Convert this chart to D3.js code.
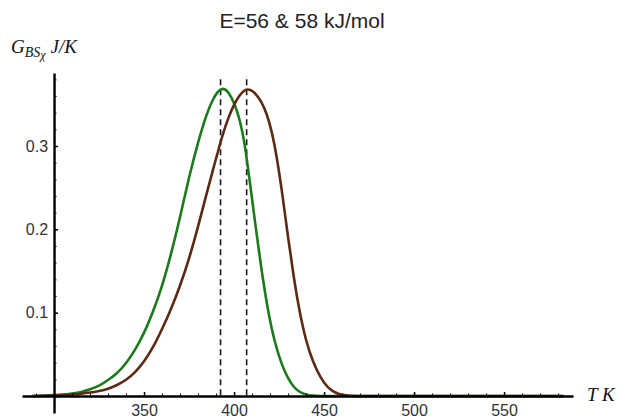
<!DOCTYPE html>
<html>
<head>
<meta charset="utf-8">
<script src="https://cdn.jsdelivr.net/npm/d3@7"></script>
<style>
  body { margin: 0; background: #fff; }
  svg { display: block; }
  .tick text { font-family: "Liberation Sans", Arial, sans-serif; font-size: 16px; fill: #333; }
</style>
</head>
<body>
<div class="chart"></div>
<script>
// temperature grid (K) shared by both curves
const tempK = [288, 295, 300, 305, 310, 315, 320, 325, 330, 335, 340, 345, 350, 355, 360, 365,
  370, 375, 380, 385, 388, 391, 394, 397, 400, 403, 406, 409, 412, 415, 418, 421, 424, 427,
  430, 433, 436, 440, 444, 448, 452, 456, 460, 465, 470, 500, 550, 583];

// E = 56 kJ/mol (green)
const g56 = [0, 0.0005, 0.001, 0.0015, 0.003, 0.0045, 0.008, 0.012, 0.019, 0.027, 0.039, 0.055,
  0.075, 0.101, 0.131, 0.17, 0.214, 0.263, 0.305, 0.34, 0.355, 0.366, 0.37, 0.365, 0.352,
  0.334, 0.303, 0.253, 0.203, 0.155, 0.113, 0.079, 0.054, 0.035, 0.021, 0.011, 0.005, 0.0015,
  0.0003, 0, 0, 0, 0, 0, 0, 0, 0, 0];

// E = 58 kJ/mol (brown)
const g58 = [0, 0.0003, 0.0006, 0.001, 0.0017, 0.0027, 0.004, 0.006, 0.0085, 0.013, 0.019, 0.028,
  0.041, 0.058, 0.08, 0.104, 0.132, 0.164, 0.203, 0.245, 0.269, 0.293, 0.316, 0.335, 0.35,
  0.361, 0.368, 0.368, 0.363, 0.354, 0.34, 0.318, 0.284, 0.24, 0.19, 0.145, 0.105, 0.065, 0.04,
  0.022, 0.01, 0.004, 0.001, 0.0002, 0, 0, 0, 0];

const peakT = [392.5, 407];
const xTicks = [350, 400, 450, 500, 550];
const yTicks = [0.1, 0.2, 0.3];

const width = 626, height = 419;

const svg = d3.select('.chart')
  .append('svg')
  .attr('width', width)
  .attr('height', height);

const xScale = d3.scaleLinear()
  .domain([282.2, 588.3])
  .range([22, 573]);

const yScale = d3.scaleLinear()
  .domain([-0.0204, 0.3876])
  .range([413, 73]);

const series = [
  {values: g56, color: '#1b7a1b'},
  {values: g58, color: '#5c2913'}
];

const line = d3.line()
  .x(d => xScale(d[0]))
  .y(d => yScale(d[1]))
  .curve(d3.curveBasis);

// dashed peak markers
svg.selectAll('.peak')
  .data(peakT)
  .enter()
  .append('line')
  .attr('class', 'peak')
  .attr('x1', d => xScale(d))
  .attr('x2', d => xScale(d))
  .attr('y1', yScale(0.38))
  .attr('y2', yScale(0))
  .attr('stroke', '#1a1a1a')
  .attr('stroke-width', 1.6)
  .attr('stroke-dasharray', '6,4');

svg.selectAll('.curve')
  .data(series)
  .enter()
  .append('path')
  .attr('class', 'curve')
  .attr('d', s => line(tempK.map((t, i) => [t, s.values[i]])))
  .attr('fill', 'none')
  .attr('stroke', s => s.color)
  .attr('stroke-width', 2.6);

// minor ticks
svg.append('g')
  .attr('transform', `translate(0, ${yScale(0)})`)
  .call(d3.axisBottom(xScale).tickValues(d3.range(290, 590, 10)).tickSize(-2.5).tickSizeOuter(0).tickFormat(''))
  .call(g => g.select('.domain').remove())
  .call(g => g.selectAll('line').attr('stroke', '#000').attr('stroke-width', 1));

svg.append('g')
  .attr('transform', `translate(${xScale(300)}, 0)`)
  .call(d3.axisLeft(yScale).tickValues(d3.range(0.02, 0.39, 0.02)).tickSize(-2.5).tickSizeOuter(0).tickFormat(''))
  .call(g => g.select('.domain').remove())
  .call(g => g.selectAll('line').attr('stroke', '#000').attr('stroke-width', 1));

// major axes
svg.append('g')
  .attr('class', 'axis x-axis')
  .attr('transform', `translate(0, ${yScale(0)})`)
  .call(d3.axisBottom(xScale).tickValues(xTicks).tickSize(-4).tickSizeOuter(0).tickPadding(9))
  .call(g => g.select('.domain').attr('stroke', '#000').attr('stroke-width', 2.4))
  .call(g => g.selectAll('.tick line').attr('stroke', '#000').attr('stroke-width', 1.5));

svg.append('g')
  .attr('class', 'axis y-axis')
  .attr('transform', `translate(${xScale(300)}, 0)`)
  .call(d3.axisLeft(yScale).tickValues(yTicks).tickSize(-4).tickSizeOuter(0).tickPadding(6)
    .tickFormat(d3.format('.1f')))
  .call(g => g.select('.domain').attr('stroke', '#000').attr('stroke-width', 2.4))
  .call(g => g.selectAll('.tick line').attr('stroke', '#000').attr('stroke-width', 1.5));

// title
svg.append('text')
  .attr('x', 302)
  .attr('y', 28)
  .attr('text-anchor', 'middle')
  .attr('font-family', '"Liberation Sans", Arial, sans-serif')
  .attr('font-size', 21)
  .attr('fill', '#222')
  .text('E=56 & 58 kJ/mol');

// y label
const yLab = svg.append('text')
  .attr('x', 11)
  .attr('y', 53)
  .attr('font-family', '"Liberation Serif", "Times New Roman", serif')
  .attr('font-style', 'italic')
  .attr('font-size', 19)
  .attr('fill', '#111');
yLab.append('tspan').text('G');
yLab.append('tspan').attr('font-size', 14).attr('dy', 4).text('BS');
yLab.append('tspan').attr('font-size', 12).attr('dy', 2).text('χ');
yLab.append('tspan').attr('dy', -6).attr('dx', 5).text('J/K');

// x label
svg.append('text')
  .attr('x', 587)
  .attr('y', 401)
  .attr('font-family', '"Liberation Serif", "Times New Roman", serif')
  .attr('font-style', 'italic')
  .attr('font-size', 19)
  .attr('fill', '#111')
  .text('T K');
</script>
</body>
</html>
